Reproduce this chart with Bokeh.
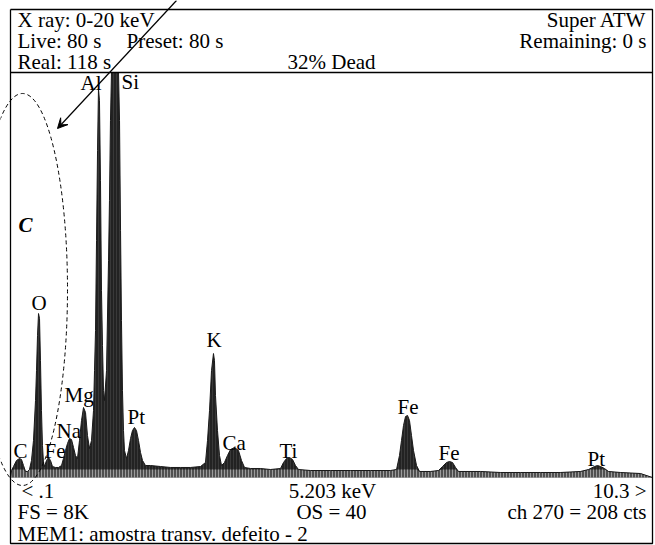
from bokeh.plotting import figure
from bokeh.models import Range1d, Arrow, VeeHead
from bokeh.core.properties import value
from bokeh.embed import file_html
from bokeh.resources import INLINE
import numpy as np

# ---------------- data ----------------
energy_kev = [0.084, 0.10, 0.132, 0.18, 0.227, 0.259, 0.291, 0.323, 0.355, 0.386, 0.418,
              0.45, 0.482, 0.498, 0.514, 0.53, 0.546, 0.561, 0.577, 0.593, 0.609, 0.625,
              0.657, 0.689, 0.721, 0.752, 0.80, 0.848, 0.896, 0.927, 0.959, 0.991, 1.023,
              1.055, 1.087, 1.118, 1.15, 1.182, 1.214, 1.246, 1.278, 1.309, 1.341, 1.373,
              1.405, 1.421, 1.437, 1.453, 1.469, 1.484, 1.50, 1.516, 1.532, 1.548, 1.564,
              1.58, 1.612, 1.644, 1.659, 1.675, 1.691, 1.803, 1.819, 1.835, 1.85, 1.866,
              1.882, 1.898, 1.93, 1.962, 1.994, 2.025, 2.057, 2.089, 2.121, 2.153, 2.185,
              2.232, 2.312, 2.471, 2.63, 2.789, 2.948, 3.108, 3.187, 3.219, 3.251, 3.283,
              3.314, 3.33, 3.346, 3.378, 3.41, 3.442, 3.489, 3.537, 3.585, 3.649, 3.712,
              3.76, 3.808, 3.903, 4.062, 4.221, 4.381, 4.428, 4.476, 4.524, 4.572, 4.619,
              4.667, 4.858, 5.176, 5.494, 5.813, 6.131, 6.227, 6.274, 6.306, 6.338, 6.37,
              6.402, 6.433, 6.465, 6.497, 6.545, 6.593, 6.768, 6.895, 6.959, 7.022, 7.07,
              7.118, 7.166, 7.213, 7.563, 7.881, 8.2, 8.518, 8.836, 9.155, 9.282, 9.377,
              9.425, 9.473, 9.536, 9.6, 9.791, 10.109, 10.3]
counts = [0, 138, 217, 336, 375, 356, 237, 119, 119, 158, 336,
          731, 1521, 2113, 2805, 3239, 3140, 2311, 1323, 632, 296, 217,
          336, 395, 336, 217, 198, 198, 237, 375, 533, 672, 770,
          751, 593, 435, 375, 731, 1126, 1383, 1284, 830, 573, 731,
          1323, 2113, 2903, 4681, 6458, 7683, 7446, 5866, 3693, 2607, 1718,
          1521, 2113, 4286, 5471, 7051, 8000, 8000, 7051, 4878, 3101, 1718,
          928, 533, 375, 533, 770, 928, 988, 928, 731, 494, 336,
          237, 237, 217, 198, 198, 198, 217, 296, 731, 1323, 2113,
          2449, 2311, 1620, 928, 435, 237, 296, 435, 553, 593, 533,
          336, 198, 178, 178, 158, 178, 296, 375, 395, 356, 237,
          158, 138, 138, 138, 138, 138, 158, 435, 731, 1027, 1205,
          1225, 1126, 830, 533, 237, 119, 119, 138, 217, 296, 316,
          296, 198, 119, 119, 99, 99, 99, 99, 119, 158, 217,
          237, 217, 178, 119, 99, 79, 0]

peak_labels = ["Al", "Si", "O", "Mg", "Na", "C", "Fe", "Pt", "K", "Ca", "Ti", "Fe", "Fe", "Pt"]
header_left = ["X ray: 0-20 keV", "Live: 80 s", "Real: 118 s"]
header_right = ["Super ATW", "Remaining: 0 s"]
footer_left = ["< .1", "FS = 8K", "MEM1: amostra transv. defeito - 2"]
FULL_SCALE = 8000

# ---------------- layout calibration (page pixels -> data) ----------------
KEV_PER_PX = 10.2 / 641
CTS_PER_PX = FULL_SCALE / 405.0
def kx(px):
    return 0.1 + (px - 11) * KEV_PER_PX
def cy(py):
    return (477 - py) * CTS_PER_PX

FONT = value("Liberation Serif")
FS_TXT = "21px"
TEXT_DY = -7

p = figure(width=655, height=545, x_range=Range1d(kx(0), kx(655)),
           y_range=Range1d(cy(545), cy(0)), output_backend="svg",
           toolbar_location=None, min_border=0,
           x_axis_location=None, y_axis_location=None)
p.grid.visible = False
p.outline_line_color = None
p.background_fill_color = "white"
p.border_fill_color = "white"

cts = np.minimum(np.array(counts, dtype=float), FULL_SCALE)
p.varea(x=energy_kev, y1=0, y2=cts, fill_color="#222222",
        hatch_pattern="|", hatch_color="white", hatch_alpha=0.1,
        hatch_scale=3, hatch_weight=1)
band = np.minimum(cts, cy(469))
p.varea(x=energy_kev, y1=0, y2=band, fill_color="#777777", fill_alpha=0.55,
        hatch_pattern="|", hatch_color="white", hatch_alpha=0.4,
        hatch_scale=3, hatch_weight=1)
p.line(x=energy_kev, y=cts, line_color="#1a1a1a", line_width=1)

# frame lines
bx = [kx(10), kx(652)]
p.multi_line(xs=[[bx[0], bx[1], bx[1], bx[0], bx[0]], [bx[0], bx[1]]],
             ys=[[cy(9), cy(9), cy(543), cy(543), cy(9)], [FULL_SCALE, FULL_SCALE]],
             line_color="black", line_width=1.3)

def txt(s, px, py, align="left", size=FS_TXT, style="normal"):
    p.text(x=[kx(px)], y=[cy(py + TEXT_DY)], text=[s], text_font=FONT,
           text_font_size=size, text_align=align, text_baseline="alphabetic",
           text_color="black", text_font_style=style)

# header
for s, py in zip(header_left, [26, 47, 68]):
    txt(s, 17, py)
txt("Preset: 80 s", 126, 47)
txt("32% Dead", 287, 68)
for s, py in zip(header_right, [26, 47]):
    txt(s, 646, py, align="right")

# footer
for s, py in zip(footer_left, [497, 518, 540]):
    txt(s, 17 if s != "< .1" else 21, py)
txt("5.203 keV", 332, 497, align="center")
txt("OS = 40", 331, 518, align="center")
txt("10.3 >", 646, 497, align="right")
txt("ch 270 = 208 cts", 646, 518, align="right")

# peak labels (page-pixel anchors)
label_px = [80, 121, 31, 64, 56, 13, 44, 127, 206, 222, 279, 397, 438, 587]
label_py = [89, 88, 309, 401, 437, 457, 457, 423, 346, 449, 457, 413, 459, 465]
for s, px, py in zip(peak_labels, label_px, label_py):
    txt(s, px, py)
txt("C", 18, 231, style="bold italic")

# dashed ellipse and arrow
p.ellipse(x=[kx(22)], y=[cy(289)], width=90, height=392, width_units="screen",
          height_units="screen", fill_color=None, line_color="black",
          line_dash="4 3", line_width=1)
p.add_layout(Arrow(end=VeeHead(size=10, fill_color="black", line_color="black"),
                   x_start=kx(176), y_start=cy(0), x_end=kx(57), y_end=cy(128),
                   line_color="black", line_width=1.2))

open("out.html", "w").write(file_html(p, INLINE))
